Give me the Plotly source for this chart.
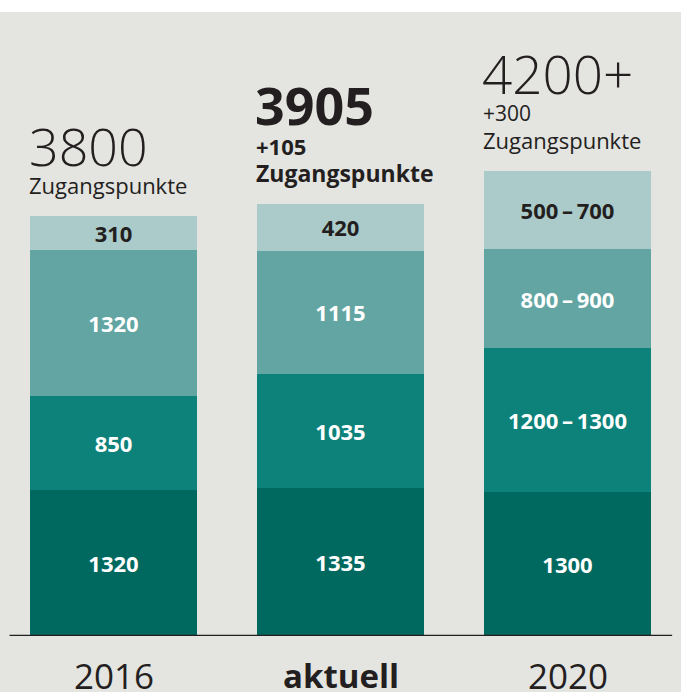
import plotly.graph_objects as go

categories = ["2016", "aktuell", "2020"]
seg1 = [1320, 1335, 1300]
seg2 = [850, 1035, 1300]
seg3 = [1320, 1115, 900]
seg4 = [310, 420, 700]
seg1_labels = ["1320", "1335", "1300"]
seg2_labels = ["850", "1035", "1200\u2009\u2013\u20091300"]
seg3_labels = ["1320", "1115", "800\u2009\u2013\u2009900"]
seg4_labels = ["310", "420", "500\u2009\u2013\u2009700"]
total_labels = ["3800", "3905", "4200+"]
delta_labels = ["", "+105", "+300"]
unit_label = "Zugangspunkte"

colors = ["#00695f", "#0d827a", "#63a5a3", "#abcbca"]
text_colors = ["white", "white", "white", "#231f20"]
FONT = "Open Sans"
BG = "#e4e4e0"

x = list(range(len(categories)))
fig = go.Figure()
for vals, labs, col, tcol in zip([seg1, seg2, seg3, seg4],
                                 [seg1_labels, seg2_labels, seg3_labels, seg4_labels],
                                 colors, text_colors):
    fig.add_trace(go.Bar(
        x=x, y=vals, text=labs, textposition="inside", insidetextanchor="middle",
        textfont=dict(family=FONT, size=22, color=tcol, weight="bold"),
        constraintext="none", textangle=0,
        marker=dict(color=col, line=dict(width=0)), width=0.736,
        hoverinfo="skip", showlegend=False,
    ))

totals = [a + b + c + d for a, b, c, d in zip(seg1, seg2, seg3, seg4)]
bold_idx = 1
big_sizes = [52, 52, 53]
big_shift = [70, 100, 98]
for i, tot in enumerate(totals):
    xl = i - 0.368
    bold = (i == bold_idx)
    w = "bold" if bold else 300
    fig.add_annotation(x=xl, y=tot, xref="x", yref="y", xanchor="left", yanchor="middle",
                       text=total_labels[i], showarrow=False, xshift=-3 if i == 0 else -4,
                       yshift=big_shift[i],
                       font=dict(family=FONT, size=big_sizes[i], color="#231f20", weight=w))
    if delta_labels[i]:
        fig.add_annotation(x=xl, y=tot, xref="x", yref="y", xanchor="left", yanchor="middle",
                           text=delta_labels[i], showarrow=False, xshift=-3, yshift=58,
                           font=dict(family=FONT, size=22 if bold else 21, color="#231f20",
                                     weight="bold" if bold else "normal"))
    fig.add_annotation(x=xl, y=tot, xref="x", yref="y", xanchor="left", yanchor="middle",
                       text=unit_label, showarrow=False, xshift=-3, yshift=31,
                       font=dict(family=FONT, size=22 if not bold else 23, color="#231f20",
                                 weight="bold" if bold else "normal"))
    fig.add_annotation(x=i, y=0, xref="x", yref="y", xanchor="center", yanchor="top",
                       text=categories[i], showarrow=False, yshift=-14 if not bold else -15,
                       font=dict(family=FONT, size=35 if not bold else 33, color="#231f20",
                                 weight="bold" if bold else "normal"))

fig.add_shape(type="line", xref="paper", yref="y", x0=0.014, x1=0.987, y0=0, y1=0,
              line=dict(color="#231f20", width=2.5), layer="above")
fig.add_shape(type="rect", xref="paper", yref="paper", x0=0, x1=1, y0=1 - 12 / 636, y1=1.01,
              fillcolor="white", line=dict(width=0), layer="above")

fig.update_layout(
    width=681, height=692, barmode="stack",
    margin=dict(l=0, r=0, t=0, b=56),
    paper_bgcolor=BG, plot_bgcolor=BG,
    xaxis=dict(range=[-0.5, 2.5], visible=False, fixedrange=True),
    yaxis=dict(range=[0, 5750], visible=False, fixedrange=True),
    font=dict(family=FONT),
)
fig.write_html("out.html", config={"displayModeBar": False},
               post_script="document.body.style.margin='0';document.body.style.overflow='hidden';")
